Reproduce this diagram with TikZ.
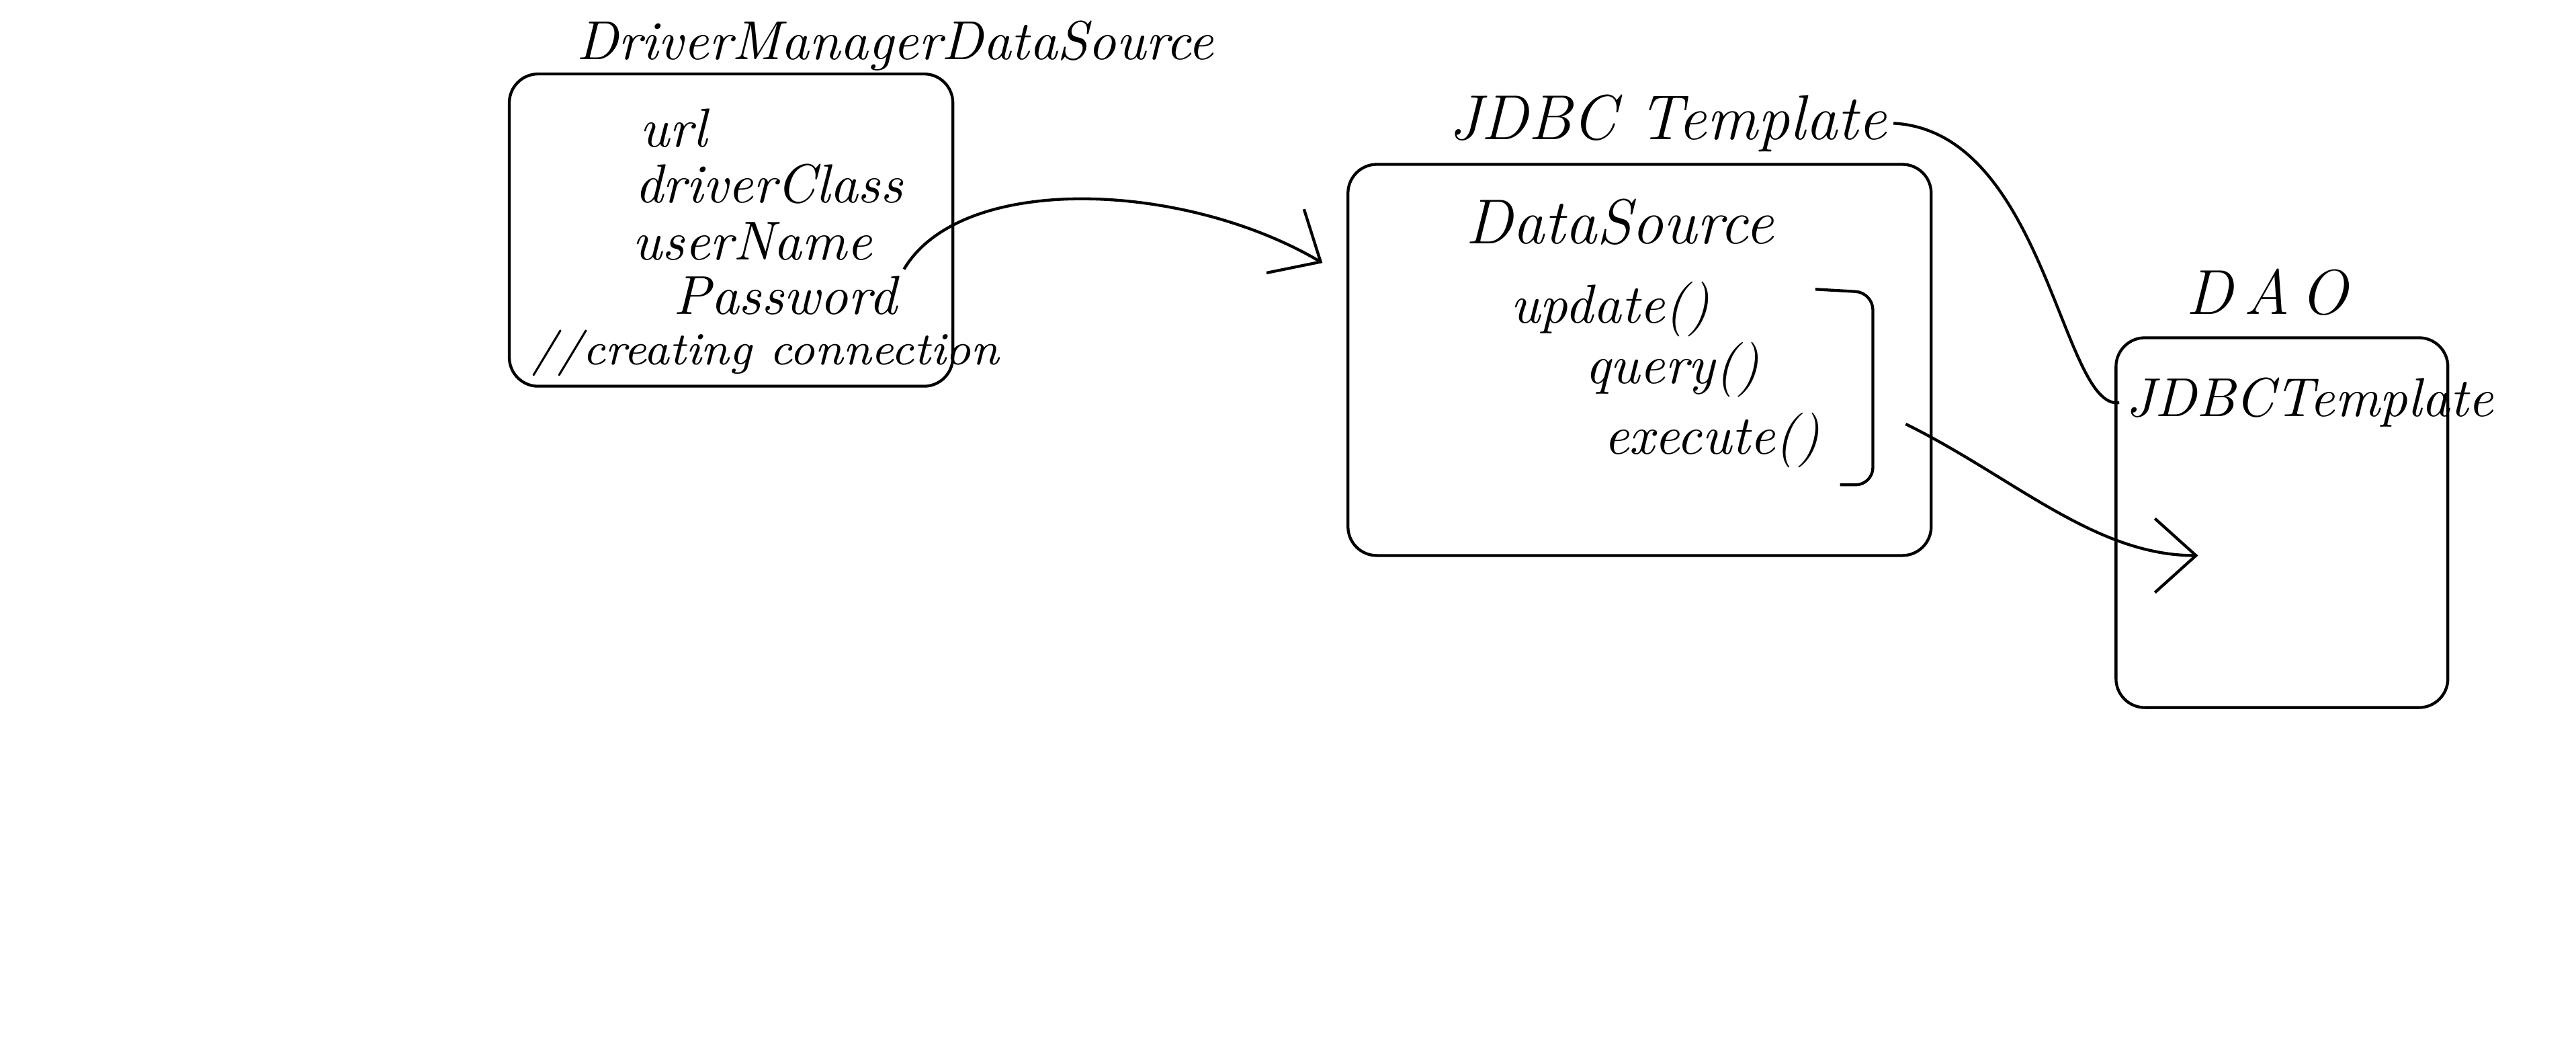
\documentclass[tikz,border=0pt]{standalone}
\usetikzlibrary{positioning,arrows.meta}
\begin{document}
\begin{tikzpicture}[x=0.1mm,y=-0.1mm,line width=0.5pt,
  hand/.style={font=\fontsize{9.5}{11}\selectfont\itshape,inner sep=1pt},
  small/.style={font=\fontsize{8}{10}\selectfont\itshape,inner sep=1pt},
  heading/.style={font=\fontsize{11}{13}\selectfont\itshape,inner sep=1pt},
  box/.style={draw,rounded corners=5pt,inner sep=0pt},
  flow/.style={-{Straight Barb[length=2.5mm,width=4.5mm]}}]
\useasboundingbox (0,0) rectangle (1568,641);
% driver manager data source
\node[box,minimum width=27mm,minimum height=19mm] (dmds) at (445,140) {};
\node[hand] (dmdsT) at (545,28) {DriverManagerDataSource};
\node[hand] (url) at (410,78) {url};
\node[hand] (drv) at (468,112) {driverClass};
\node[hand] (usr) at (458,147) {userName};
\node[hand] (pw) at (478,180) {Password};
\node[small] (conn) at (466,215) {//creating connection};
% jdbc template
\node[box,minimum width=35.5mm,minimum height=23.8mm] (jdbc) at (998,219) {};
\node[heading] (jdbcT) at (1015,75) {JDBC Template};
\node[heading] (ds) at (986,135) {DataSource};
\node[hand] (upd) at (980,188) {update()};
\node[hand] (qry) at (1018,225) {query()};
\node[hand] (exe) at (1042,268) {execute()};
\draw[rounded corners=3pt] (1105,176) -- (1140,178) -- (1140,295) -- (1120,295);
\coordinate (exout) at (1160,258);
% dao
\node[box,minimum width=20.2mm,minimum height=22.5mm] (dao) at (1389,318) {};
\node[heading] (daoT) at (1380,178) {D\,A\,O};
\node[hand] (daoJT) at (1406,245) {JDBCTemplate};
\coordinate (dsin) at (805,160);
\coordinate (daoin) at (1338,338);
% connectors
\draw[flow] (pw.north east) .. controls (585,105) and (720,110) .. (dsin);
\draw (jdbcT.east) .. controls (1245,80) and (1255,250) .. (daoJT.west);
\draw[flow] (exout) .. controls (1225,290) and (1275,338) .. (daoin);
\end{tikzpicture}
\end{document}
